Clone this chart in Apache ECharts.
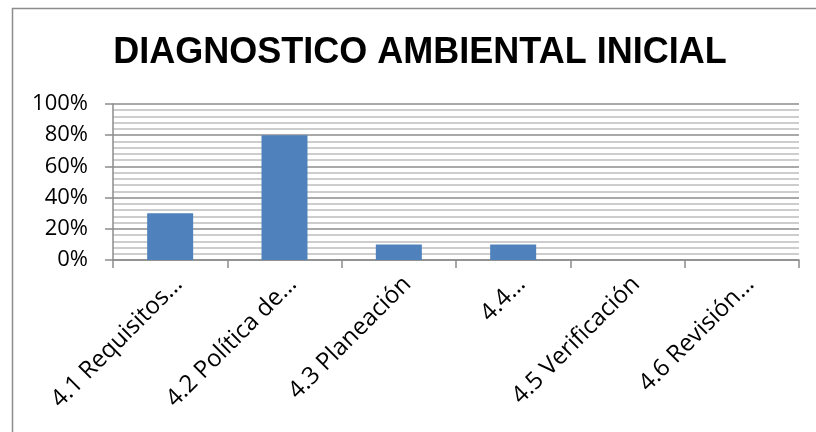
<!DOCTYPE html>
<html>
<head>
<meta charset="utf-8">
<script src="https://cdn.jsdelivr.net/npm/echarts@6/dist/echarts.min.js"></script>
<style>
  html, body { margin: 0; padding: 0; background: #fff; }
  #chart { width: 816px; height: 432px; }
</style>
</head>
<body>
<div id="chart"></div>
<script>
// categorias y valores (fraccion)
const categories = ['4.1 Requisitos…', '4.2 Política de…', '4.3 Planeación', '4.4…', '4.5 Verificación', '4.6 Revisión…'];
const values = [0.3, 0.8, 0.1, 0.1, 0, 0];

const chart = echarts.init(document.getElementById('chart'));

const option = {
  backgroundColor: '#fff',
  animation: false,
  title: {
    text: 'DIAGNOSTICO AMBIENTAL INICIAL',
    left: 415,
    top: 30,
    textAlign: 'center',
    textStyle: { fontFamily: 'Liberation Sans', fontWeight: 'bold', fontSize: 36, color: '#000' }
  },
  graphic: [
    {
      type: 'rect',
      shape: { x: 12.5, y: 8.5, width: 820, height: 440 },
      style: { fill: 'none', stroke: '#8c8c8c', lineWidth: 1.5 },
      silent: true
    }
  ],
  grid: { left: 113, right: 17, top: 104, bottom: 172 },
  xAxis: {
    type: 'category',
    data: categories,
    axisLine: { lineStyle: { color: '#8c8c8c', width: 1.5 } },
    axisTick: { show: true, length: 8, lineStyle: { color: '#8c8c8c', width: 1.5 } },
    axisLabel: {
      rotate: 45,
      interval: 0,
      margin: 12,
      verticalAlign: 'top',
      color: '#000',
      fontFamily: 'Open Sans',
      fontSize: 24
    }
  },
  yAxis: {
    type: 'value',
    min: 0,
    max: 1,
    interval: 0.2,
    axisLine: { show: true, lineStyle: { color: '#8c8c8c', width: 1.5 } },
    axisTick: { show: true, length: 8, lineStyle: { color: '#8c8c8c', width: 1.5 } },
    axisLabel: {
      color: '#000',
      fontFamily: 'Open Sans',
      fontSize: 22,
      margin: 25,
      formatter: v => Math.round(v * 100) + '%'
    },
    splitLine: { lineStyle: { color: '#8c8c8c', width: 1.5 } },
    minorTick: { show: false, splitNumber: 5 },
    minorSplitLine: { show: true, lineStyle: { color: '#bdbdbd', width: 1.5 } }
  },
  series: [
    {
      type: 'bar',
      data: values,
      barWidth: 46,
      itemStyle: { color: '#4f81bd' }
    }
  ]
};
chart.setOption(option);
</script>
</body>
</html>
